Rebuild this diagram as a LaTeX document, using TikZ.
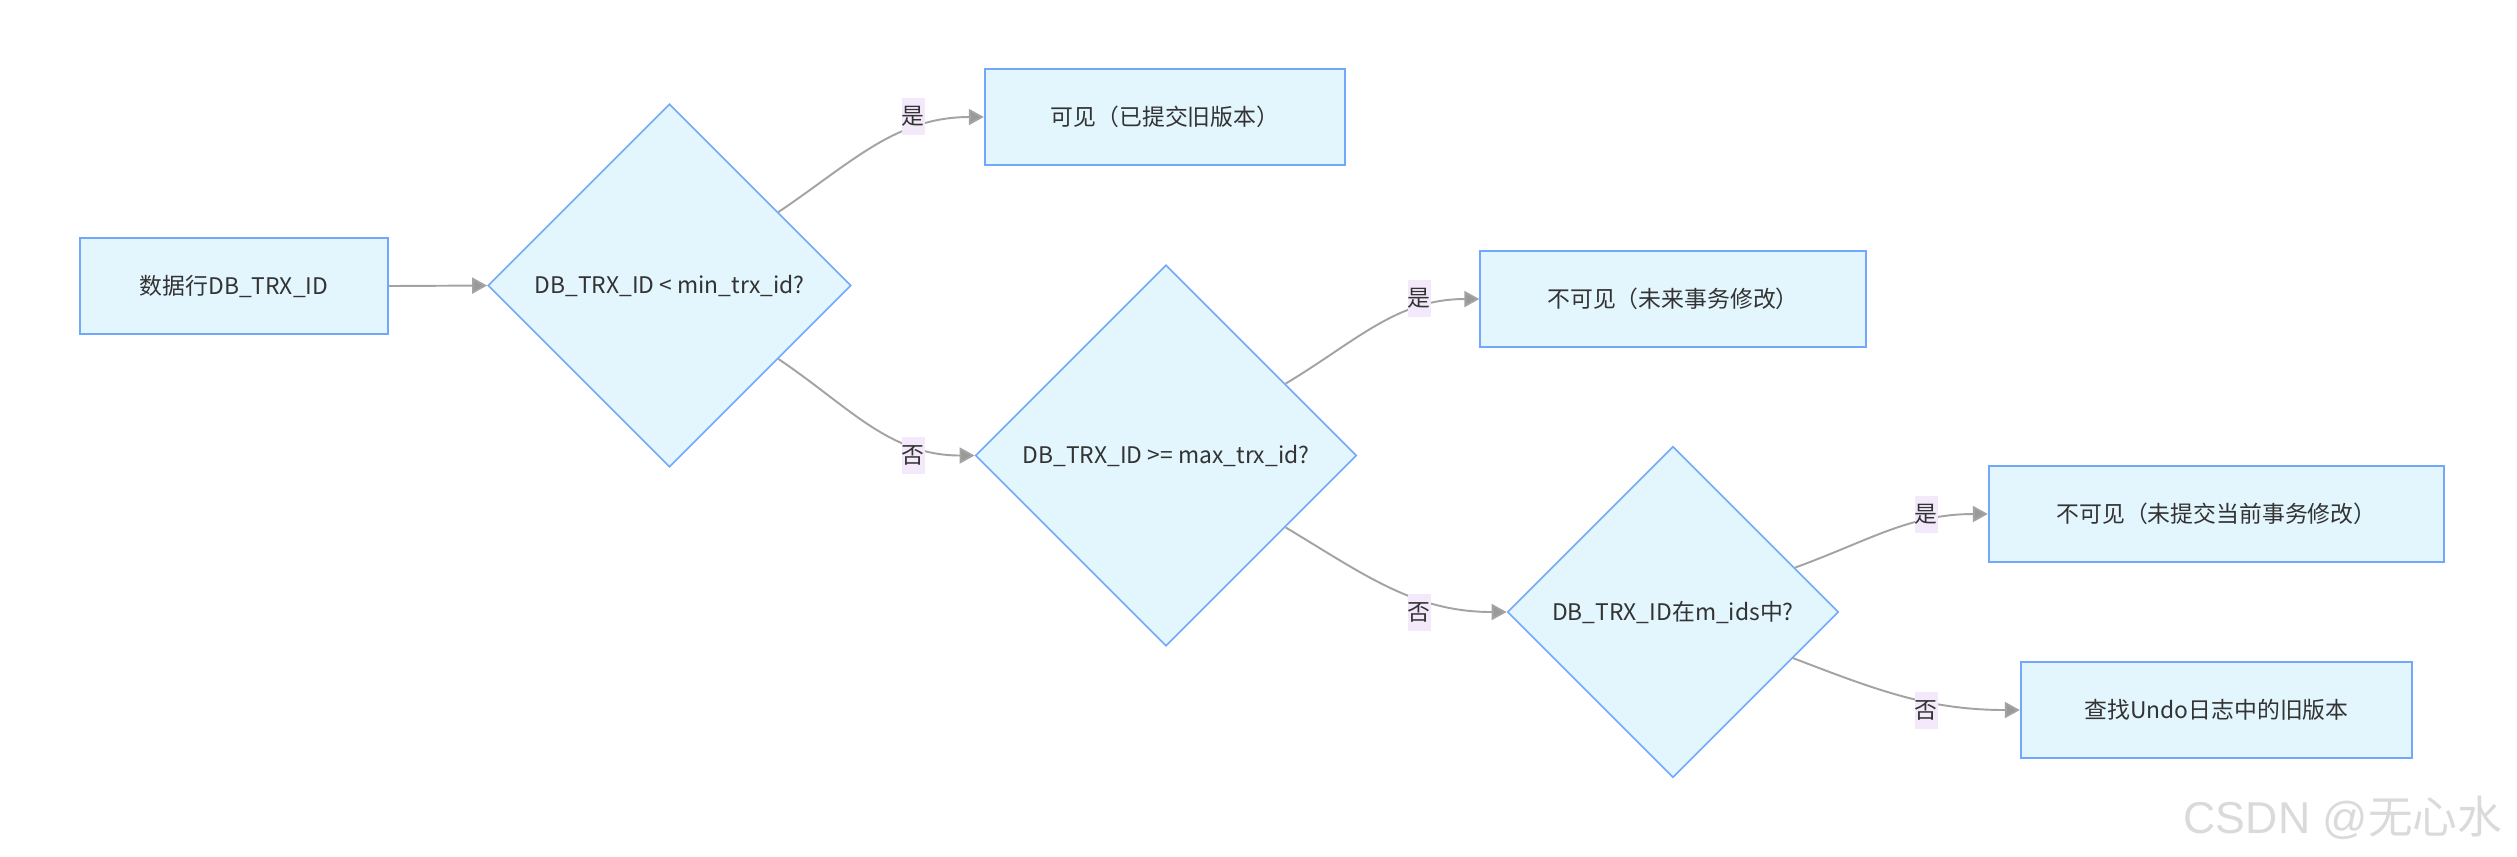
\documentclass[tikz,border=0pt]{standalone}
\usepackage{fontspec}
\setmainfont{Noto Sans CJK SC}
\newfontfamily\markfont{Liberation Sans}
\newfontfamily\markcjk{Noto Sans CJK SC}
\usetikzlibrary{shapes.geometric,arrows.meta,positioning}
\definecolor{mvink}{HTML}{333333}
\definecolor{mvfill}{HTML}{E3F5FD}
\definecolor{mvline}{HTML}{72A8FB}
\definecolor{mvedge}{HTML}{A3A3A3}
\definecolor{mvtip}{HTML}{999999}
\definecolor{mvtag}{HTML}{F3E9FB}
\definecolor{mvmark}{HTML}{DADADA}
\tikzset{
  box/.style={rectangle,draw=mvline,line width=0.6pt,fill=mvfill,
              minimum height=0.96cm,inner sep=0pt,
              font=\fontsize{6.5}{8}\selectfont,text=mvink},
  check/.style={diamond,draw=mvline,line width=0.45pt,fill=mvfill,aspect=1,
                inner sep=0pt,font=\fontsize{6.5}{8}\selectfont,text=mvink},
  link/.style={-{Triangle[length=1.5mm,width=1.6mm,fill=mvtip]},line width=0.55pt,draw=mvedge},
  tag/.style={rectangle,fill=mvtag,inner sep=0pt,minimum width=0.23cm,minimum height=0.37cm,
              font=\fontsize{6.5}{8}\selectfont,text=mvink},
}

\begin{document}
\begin{tikzpicture}[x=0.01cm,y=-0.01cm]
  \useasboundingbox (0,0) rectangle (2517,856);
  % nodes
  \node[box,minimum width=3.08cm] (row) at (234,286) {数据行DB\_TRX\_ID};
  \node[check,minimum size=3.63cm] (low) at (669.5,285.5) {DB\_TRX\_ID < min\_trx\_id?};
  \node[box,minimum width=3.6cm] (old) at (1165,117) {可见（已提交旧版本）};
  \node[check,minimum size=3.81cm] (high) at (1166,455.5) {DB\_TRX\_ID >= max\_trx\_id?};
  \node[box,minimum width=3.85cm] (future) at (1673,299) {不可见（未来事务修改）};
  \node[check,minimum size=3.31cm] (active) at (1673,612) {DB\_TRX\_ID在m\_ids中?};
  \node[box,minimum width=4.55cm] (open) at (2216.5,514) {不可见（未提交当前事务修改）};
  \node[box,minimum width=3.91cm] (undo) at (2216.5,710) {查找Undo日志中的旧版本};
  % edges
  \draw[link] (row.east) -- (low.west);
  \draw[link] (low.34) to[out=34,in=180] (old.west);
  \draw[link] (low.-34) to[out=-34,in=180] (high.west);
  \draw[link] (high.31) to[out=31,in=180] (future.west);
  \draw[link] (high.-31) to[out=-31,in=180] (active.west);
  \draw[link] (active.20) to[out=20,in=180] (open.west);
  \draw[link] (active.-21) to[out=-21,in=180] (undo.west);
  % edge labels
  \node[tag] (yes1) at (913,116.5) {是};
  \node[tag] (no1) at (913,455) {否};
  \node[tag] (yes2) at (1419,298) {是};
  \node[tag] (no2) at (1419,612) {否};
  \node[tag] (yes3) at (1926,514) {是};
  \node[tag] (no3) at (1926,710) {否};
  \node[anchor=base west,inner sep=0pt,text=mvmark,font=\fontsize{12.7}{14}\selectfont] (mark) at (2183,833)
    {\markfont CSDN @\markcjk 无心水};
\end{tikzpicture}
\end{document}
